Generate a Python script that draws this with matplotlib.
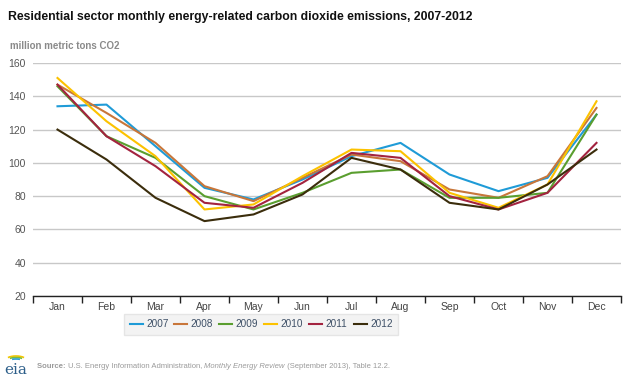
import numpy as np
import matplotlib.pyplot as plt
from matplotlib.patches import Arc

plt.rcParams['font.family'] = ['Liberation Sans', 'DejaVu Sans']

months = ['Jan', 'Feb', 'Mar', 'Apr', 'May', 'Jun', 'Jul', 'Aug', 'Sep', 'Oct', 'Nov', 'Dec']
years = ['2007', '2008', '2009', '2010', '2011', '2012']

y2007 = [134, 135, 110, 85, 78, 90, 104, 112, 93, 83, 91, 129]
y2008 = [147, 130, 112, 86, 77, 91, 105, 101, 84, 79, 92, 133]
y2009 = [146, 116, 103, 80, 72, 82, 94, 96, 79, 79, 82, 129]
y2010 = [151, 125, 104, 72, 75, 92, 108, 107, 82, 73, 87, 137]
y2011 = [147, 116, 98, 76, 73, 88, 106, 103, 80, 72, 82, 112]
y2012 = [120, 102, 79, 65, 69, 81, 103, 96, 76, 72, 87, 108]

series = [y2007, y2008, y2009, y2010, y2011, y2012]
colors = ['#1f9bd7', '#c8763a', '#5a9e2f', '#fcc200', '#a3233f', '#3b2d0c']

W, H = 630, 378
fig = plt.figure(figsize=(6.3, 3.78), dpi=100)
ax = fig.add_axes([33 / W, 1 - 296 / H, (621 - 33) / W, (296 - 63) / H])

x = np.arange(len(months))
for vals, c, lab in zip(series, colors, years):
    ax.plot(x, vals, color=c, lw=1.5, label=lab)

ax.set_xlim(-0.5, 11.5)
ax.set_ylim(20, 160)
ax.set_yticks(range(20, 161, 20))
ax.set_xticks(x)
ax.set_xticklabels(months)
ax.set_xticks(np.arange(-0.5, 12, 1), minor=True)
ax.tick_params(axis='x', which='major', length=0, pad=4, labelsize=7.5, colors='#444444')
ax.tick_params(axis='x', which='minor', length=5, width=1, color='#222222', direction='out')
ax.tick_params(axis='y', length=0, labelsize=7.5, colors='#555555', pad=5)
ax.grid(axis='y', color='#c8c8c8', lw=1)
ax.set_axisbelow(True)
for s in ['top', 'right', 'left']:
    ax.spines[s].set_visible(False)
ax.spines['bottom'].set_color('#222222')
ax.spines['bottom'].set_linewidth(1)

leg = fig.legend(loc='center', bbox_to_anchor=(261 / W, 1 - 324 / H), ncol=6, frameon=True,
                 fontsize=7.2, handlelength=1.3, handletextpad=0.35, columnspacing=0.6,
                 borderpad=0.55, fancybox=False)
leg.get_frame().set_facecolor('#f0f0f0')
leg.get_frame().set_edgecolor('#e0e0e0')
for t in leg.get_texts():
    t.set_color('#3d4f66')

fig.text(8 / W, 1 - 17 / H, 'Residential sector monthly energy-related carbon dioxide emissions, 2007-2012',
         fontsize=8.8, fontweight='bold', color='#111111', va='center')
fig.text(10 / W, 1 - 46 / H, 'million metric tons CO2', fontsize=7, fontweight='bold',
         color='#8a8a8a', va='center')

# eia logo
fig.text(4 / W, 1 - 370 / H, 'eia', fontsize=11, color='#2d5f8a', family='DejaVu Serif', va='center')
for w, h, c in [(22, 10, '#f2c500'), (18, 7, '#7dbb3a'), (14, 4, '#2a9fd6')]:
    fig.add_artist(Arc((16 / W, 1 - 361 / H), w / W, h / H, theta1=35, theta2=145,
                       color=c, lw=1.2, transform=fig.transFigure))

renderer = fig.canvas.get_renderer()
ys = 1 - 367 / H
parts = [('Source: ', 'bold', 'normal'),
         ('U.S. Energy Information Administration, ', 'normal', 'normal'),
         ('Monthly Energy Review', 'normal', 'italic'),
         (' (September 2013), Table 12.2.', 'normal', 'normal')]
xpos = 37
for s, wgt, sty in parts:
    t = fig.text(xpos / W, ys, s, fontsize=5.5, fontweight=wgt, style=sty, color='#9a9a9a', va='center')
    xpos += t.get_window_extent(renderer).width

fig.savefig('out.png', dpi=100)
